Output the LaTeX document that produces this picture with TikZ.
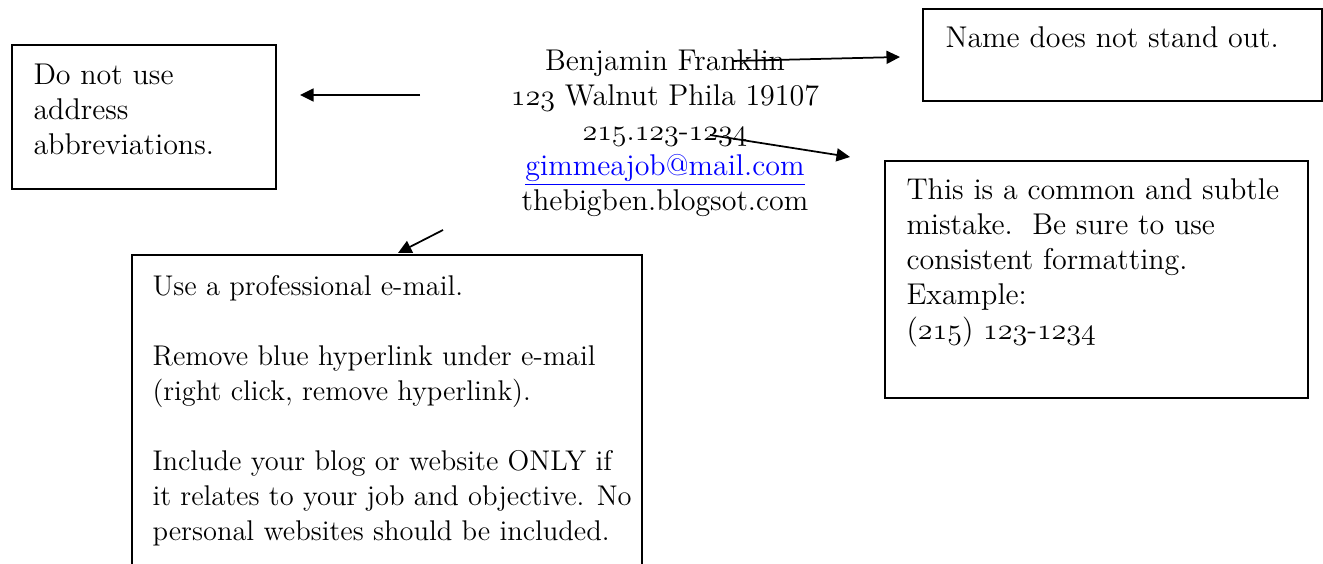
\documentclass[tikz,border=0pt]{standalone}
\usepackage{tikz}
\usetikzlibrary{arrows.meta,fit}
\usepackage{xcolor}
\newcommand{\osf}[1]{{\usefont{OML}{cmm}{m}{it}#1}}

\begin{document}
\begin{tikzpicture}[x=0.4pt,y=-0.4pt,>={Triangle[length=5.4pt,width=5.2pt]},
    box/.style={draw,line width=0.8pt,inner sep=0pt},
    note/.style={anchor=north west,align=left,inner sep=0pt,font=\fontsize{12}{14}\selectfont},
    pointer/.style={->,line width=0.7pt}]
  \path[use as bounding box,clip] (0,0) rectangle (1323,564);
  % heading in the middle
  \node[anchor=north,align=center,inner sep=0pt,font=\fontsize{12}{14}\selectfont] (head) at (665,49)
    {Benjamin Franklin\\
     \osf{123} Walnut Phila 19107\\
     \osf{215}.\osf{123}-\osf{1234}\\
     \textcolor{blue}{\underline{gimmeajob@mail.com}}\\
     thebigben.blogsot.com};
  % comment boxes
  \node[box,fit={(12,45) (276,189)}] (abbr) {};
  \node[note] (abbrtxt) at (33,64) {Do not use\\ address\\ abbreviations.};
  \node[box,fit={(923,9) (1322,101)}] (name) {};
  \node[note] (nametxt) at (945,26) {Name does not stand out.};
  \node[box,fit={(885,161) (1308,398)}] (phone) {};
  \node[note] (phonetxt) at (906,178)
    {This is a common and subtle\\ mistake.\ \ Be sure to use\\ consistent formatting.\\ Example:\\
     (\osf{215}) \osf{123}-\osf{1234}};
  \node[box,fit={(132,255) (642,620)}] (mail) {};
  \node[note,font=\fontsize{11.4}{14}\selectfont] (mailtxt) at (152,275)
    {Use a professional e-mail.\\[14pt]
     Remove blue hyperlink under e-mail\\ (right click, remove hyperlink).\\[14pt]
     Include your blog or website ONLY if\\ it relates to your job and objective. No\\ personal websites should be included.};
  % arrows
  \coordinate (a1) at (420,95);  \coordinate (a2) at (300,95);
  \coordinate (b1) at (732,61);  \coordinate (b2) at (900,57);
  \coordinate (c1) at (710,135); \coordinate (c2) at (850,157);
  \coordinate (d1) at (443,230); \coordinate (d2) at (398,253);
  \draw[pointer] (a1) -- (a2);
  \draw[pointer] (b1) -- (b2);
  \draw[pointer] (c1) -- (c2);
  \draw[pointer] (d1) -- (d2);
\end{tikzpicture}
\end{document}
